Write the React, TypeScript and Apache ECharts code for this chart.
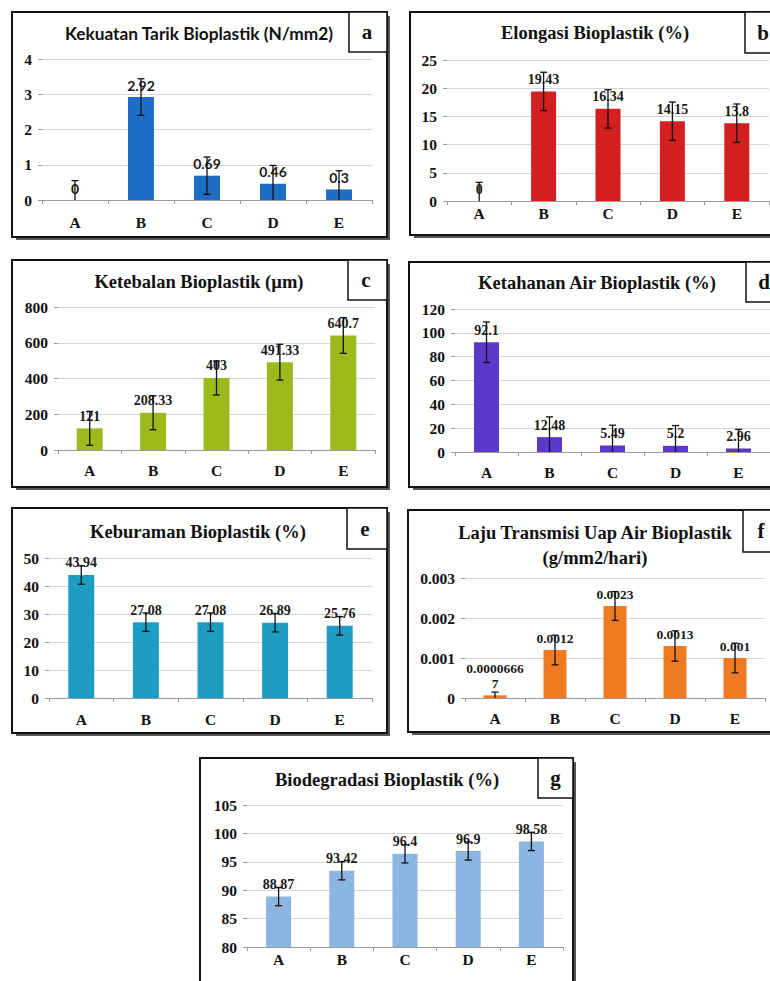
import React, { useEffect, useRef } from "react";
import * as echarts from "echarts";

const categories = ["A", "B", "C", "D", "E"];

const tensileValues = [0, 2.92, 0.69, 0.46, 0.3];
const tensileErrors = [0.55, 0.52, 0.53, 0.52, 0.53];

const elongationValues = [0, 19.43, 16.34, 14.15, 13.8];
const elongationErrors = [3.3, 3.4, 3.4, 3.4, 3.4];

const thicknessValues = [121, 208.33, 403, 491.33, 640.7];
const thicknessErrors = [95, 95, 95, 100, 100];

const waterResValues = [92.1, 12.48, 5.49, 5.2, 2.96];
const waterResErrors = [17, 17, 17, 17, 16];

const opacityValues = [43.94, 27.08, 27.08, 26.89, 25.76];
const opacityErrors = [3.3, 3.3, 3.3, 3.3, 3.3];

const wvtrValues = [0.00006667, 0.0012, 0.0023, 0.0013, 0.001];
const wvtrErrors = [0.00008, 0.00037, 0.00036, 0.00038, 0.00037];
const wvtrLabels = ["0.0000666\n7", "0.0012", "0.0023", "0.0013", "0.001"];

const biodegValues = [88.87, 93.42, 96.4, 96.9, 98.58];
const biodegErrors = [1.6, 1.6, 1.6, 1.6, 1.6];

const SERIF = "Liberation Serif";
const SANS = "Lato";

type Panel = {
  letter: string;
  title: string;
  titleFont: string;
  titleSize: number;
  titleX: number;
  titleY: number;
  values: number[];
  errors: number[];
  labels?: string[];
  color: string;
  grid: { left: number; top: number; width: number; height: number };
  yMin: number;
  yMax: number;
  yInterval: number;
  barWidth: number;
  xMargin: number;
  labelFont: string;
  labelSize: number;
  box: { x: number; y: number; w: number; h: number };
  letterBox: { x: number; y: number; w: number; h: number };
};

const panels: Panel[] = [
  {
    letter: "a", title: "Kekuatan Tarik Bioplastik (N/mm2)", titleFont: SANS, titleSize: 17.3, titleX: 199, titleY: 33,
    values: tensileValues, errors: tensileErrors, color: "#1E6EC6",
    grid: { left: 42, top: 59, width: 330, height: 141 }, yMin: 0, yMax: 4, yInterval: 1,
    barWidth: 26, xMargin: 14, labelFont: SANS, labelSize: 14,
    box: { x: 12, y: 12, w: 375, h: 225 }, letterBox: { x: 349, y: 12, w: 38, h: 40 },
  },
  {
    letter: "b", title: "Elongasi Bioplastik (%)", titleFont: SERIF, titleSize: 18.5, titleX: 595, titleY: 33,
    values: elongationValues, errors: elongationErrors, color: "#D21F1F",
    grid: { left: 447, top: 60, width: 322, height: 141 }, yMin: 0, yMax: 25, yInterval: 5,
    barWidth: 25, xMargin: 4, labelFont: SERIF, labelSize: 14,
    box: { x: 410, y: 12, w: 400, h: 223 }, letterBox: { x: 745, y: 12, w: 60, h: 41 },
  },
  {
    letter: "c", title: "Ketebalan Bioplastik (\u00b5m)", titleFont: SERIF, titleSize: 18.5, titleX: 199, titleY: 282,
    values: thicknessValues, errors: thicknessErrors, color: "#9BBA1B",
    grid: { left: 58, top: 307, width: 317, height: 143 }, yMin: 0, yMax: 800, yInterval: 200,
    barWidth: 26, xMargin: 12, labelFont: SERIF, labelSize: 14,
    box: { x: 12, y: 260, w: 375, h: 227 }, letterBox: { x: 348, y: 260, w: 39, h: 40 },
  },
  {
    letter: "d", title: "Ketahanan Air Bioplastik (%)", titleFont: SERIF, titleSize: 18.5, titleX: 597, titleY: 283,
    values: waterResValues, errors: waterResErrors, color: "#5A39CB",
    grid: { left: 455, top: 309, width: 315, height: 143 }, yMin: 0, yMax: 120, yInterval: 20,
    barWidth: 25, xMargin: 12, labelFont: SERIF, labelSize: 14,
    box: { x: 409, y: 262, w: 400, h: 225 }, letterBox: { x: 746, y: 262, w: 60, h: 40 },
  },
  {
    letter: "e", title: "Keburaman Bioplastik (%)", titleFont: SERIF, titleSize: 18.5, titleX: 198, titleY: 532,
    values: opacityValues, errors: opacityErrors, color: "#1F9CC3",
    grid: { left: 49, top: 558, width: 323, height: 140 }, yMin: 0, yMax: 50, yInterval: 10,
    barWidth: 26, xMargin: 13, labelFont: SERIF, labelSize: 14,
    box: { x: 12, y: 508, w: 375, h: 225 }, letterBox: { x: 347, y: 508, w: 40, h: 41 },
  },
  {
    letter: "f", title: "Laju Transmisi Uap Air Bioplastik\n(g/mm2/hari)", titleFont: SERIF, titleSize: 18.5, titleX: 595, titleY: 545,
    values: wvtrValues, errors: wvtrErrors, labels: wvtrLabels, color: "#F07A22",
    grid: { left: 465, top: 578, width: 300, height: 120 }, yMin: 0, yMax: 0.003, yInterval: 0.001,
    barWidth: 23, xMargin: 12, labelFont: SERIF, labelSize: 13.5,
    box: { x: 408, y: 510, w: 400, h: 222 }, letterBox: { x: 743, y: 510, w: 60, h: 42 },
  },
  {
    letter: "g", title: "Biodegradasi Bioplastik (%)", titleFont: SERIF, titleSize: 18.5, titleX: 387, titleY: 780,
    values: biodegValues, errors: biodegErrors, color: "#8DB5E2",
    grid: { left: 247, top: 805, width: 316, height: 142 }, yMin: 80, yMax: 105, yInterval: 5,
    barWidth: 25, xMargin: 4, labelFont: SERIF, labelSize: 14,
    box: { x: 200, y: 758, w: 373, h: 260 }, letterBox: { x: 538, y: 758, w: 35, h: 40 },
  },
];

function buildOption() {
  const grid: any[] = [];
  const xAxis: any[] = [];
  const yAxis: any[] = [];
  const series: any[] = [];
  const graphic: any[] = [];

  panels.forEach((p, idx) => {
    grid.push({ ...p.grid, containLabel: false });
    xAxis.push({
      type: "category",
      gridIndex: idx,
      data: categories,
      axisLine: { show: true, lineStyle: { color: "#9a9a9a", width: 1 } },
      axisTick: { show: true, length: 4, lineStyle: { color: "#9a9a9a" } },
      axisLabel: {
        margin: p.xMargin,
        color: "#111",
        fontFamily: SERIF,
        fontWeight: "bold",
        fontSize: 15.5,
      },
    });
    yAxis.push({
      type: "value",
      gridIndex: idx,
      min: p.yMin,
      max: p.yMax,
      interval: p.yInterval,
      axisLine: { show: false },
      axisTick: { show: true, length: 4, lineStyle: { color: "#9a9a9a" } },
      splitLine: { show: true, lineStyle: { color: "#d6d6d6", width: 1 } },
      axisLabel: {
        margin: 10,
        color: "#111",
        fontFamily: SERIF,
        fontWeight: "bold",
        fontSize: 15.5,
      },
    });
    series.push({
      type: "bar",
      xAxisIndex: idx,
      yAxisIndex: idx,
      data: p.values,
      barWidth: p.barWidth,
      itemStyle: { color: p.color },
      z: 2,
      label: {
        show: true,
        position: "top",
        distance: 4,
        color: "#1a1a1a",
        fontFamily: p.labelFont,
        fontWeight: "bold",
        fontSize: p.labelSize,
        lineHeight: p.labelSize + 2,
        formatter: (d: any) => (p.labels ? p.labels[d.dataIndex] : String(d.value)),
      },
    });
    const yMin = p.yMin;
    series.push({
      type: "custom",
      xAxisIndex: idx,
      yAxisIndex: idx,
      z: 3,
      silent: true,
      encode: { x: 0, y: 1 },
      data: p.values.map((v, i) => [i, v, p.errors[i]]),
      renderItem: (_params: any, api: any) => {
        const i = api.value(0);
        const v = api.value(1);
        const e = api.value(2);
        const lo = Math.max(v - e, yMin);
        const hi = v + e;
        const pHi = api.coord([i, hi]);
        const pLo = api.coord([i, lo]);
        const w = 3.5;
        const st = { stroke: "#111", lineWidth: 1.3 };
        const children: any[] = [
          { type: "line", shape: { x1: pHi[0], y1: pHi[1], x2: pLo[0], y2: pLo[1] }, style: st },
          { type: "line", shape: { x1: pHi[0] - w, y1: pHi[1], x2: pHi[0] + w, y2: pHi[1] }, style: st },
        ];
        if (v - e > yMin) {
          children.push({ type: "line", shape: { x1: pLo[0] - w, y1: pLo[1], x2: pLo[0] + w, y2: pLo[1] }, style: st });
        }
        return { type: "group", children };
      },
    });

    // shadow of the frame (right and bottom)
    graphic.push({
      type: "polyline",
      shape: {
        points: [
          [p.box.x + p.box.w + 2, p.box.y + 4],
          [p.box.x + p.box.w + 2, p.box.y + p.box.h + 2],
          [p.box.x + 4, p.box.y + p.box.h + 2],
        ],
      },
      style: { fill: "none", stroke: "#555", lineWidth: 2 },
      z: 9,
    });
    graphic.push({
      type: "rect",
      shape: { x: p.box.x, y: p.box.y, width: p.box.w, height: p.box.h },
      style: { fill: "none", stroke: "#111", lineWidth: 2 },
      z: 10,
    });
    graphic.push({
      type: "rect",
      shape: { x: p.letterBox.x, y: p.letterBox.y, width: p.letterBox.w, height: p.letterBox.h },
      style: { fill: "#fff", stroke: "#111", lineWidth: 1.5 },
      z: 10,
    });
    graphic.push({
      type: "text",
      x: Math.min(p.letterBox.x + p.letterBox.w / 2, p.letterBox.x + 18),
      y: p.letterBox.y + p.letterBox.h / 2,
      style: {
        text: p.letter,
        fontFamily: SERIF,
        fontWeight: "bold",
        fontSize: 21,
        fill: "#111",
        align: "center",
        verticalAlign: "middle",
      },
      z: 11,
    });
    graphic.push({
      type: "text",
      x: p.titleX,
      y: p.titleY,
      style: {
        text: p.title,
        fontFamily: p.titleFont,
        fontWeight: "bold",
        fontSize: p.titleSize,
        lineHeight: 25,
        fill: "#111",
        align: "center",
        verticalAlign: "middle",
      },
      z: 11,
    });
  });

  return {
    animation: false,
    backgroundColor: "#ffffff",
    grid,
    xAxis,
    yAxis,
    series,
    graphic,
  };
}

export default function App() {
  const ref = useRef<HTMLDivElement>(null);
  useEffect(() => {
    if (!ref.current) return;
    const chart = echarts.init(ref.current, undefined, { renderer: "svg" });
    chart.setOption(buildOption() as any);
    return () => chart.dispose();
  }, []);
  return (
    <div
      ref={ref}
      style={{ position: "absolute", left: 0, top: 0, width: 770, height: 981, background: "#fff" }}
    />
  );
}
